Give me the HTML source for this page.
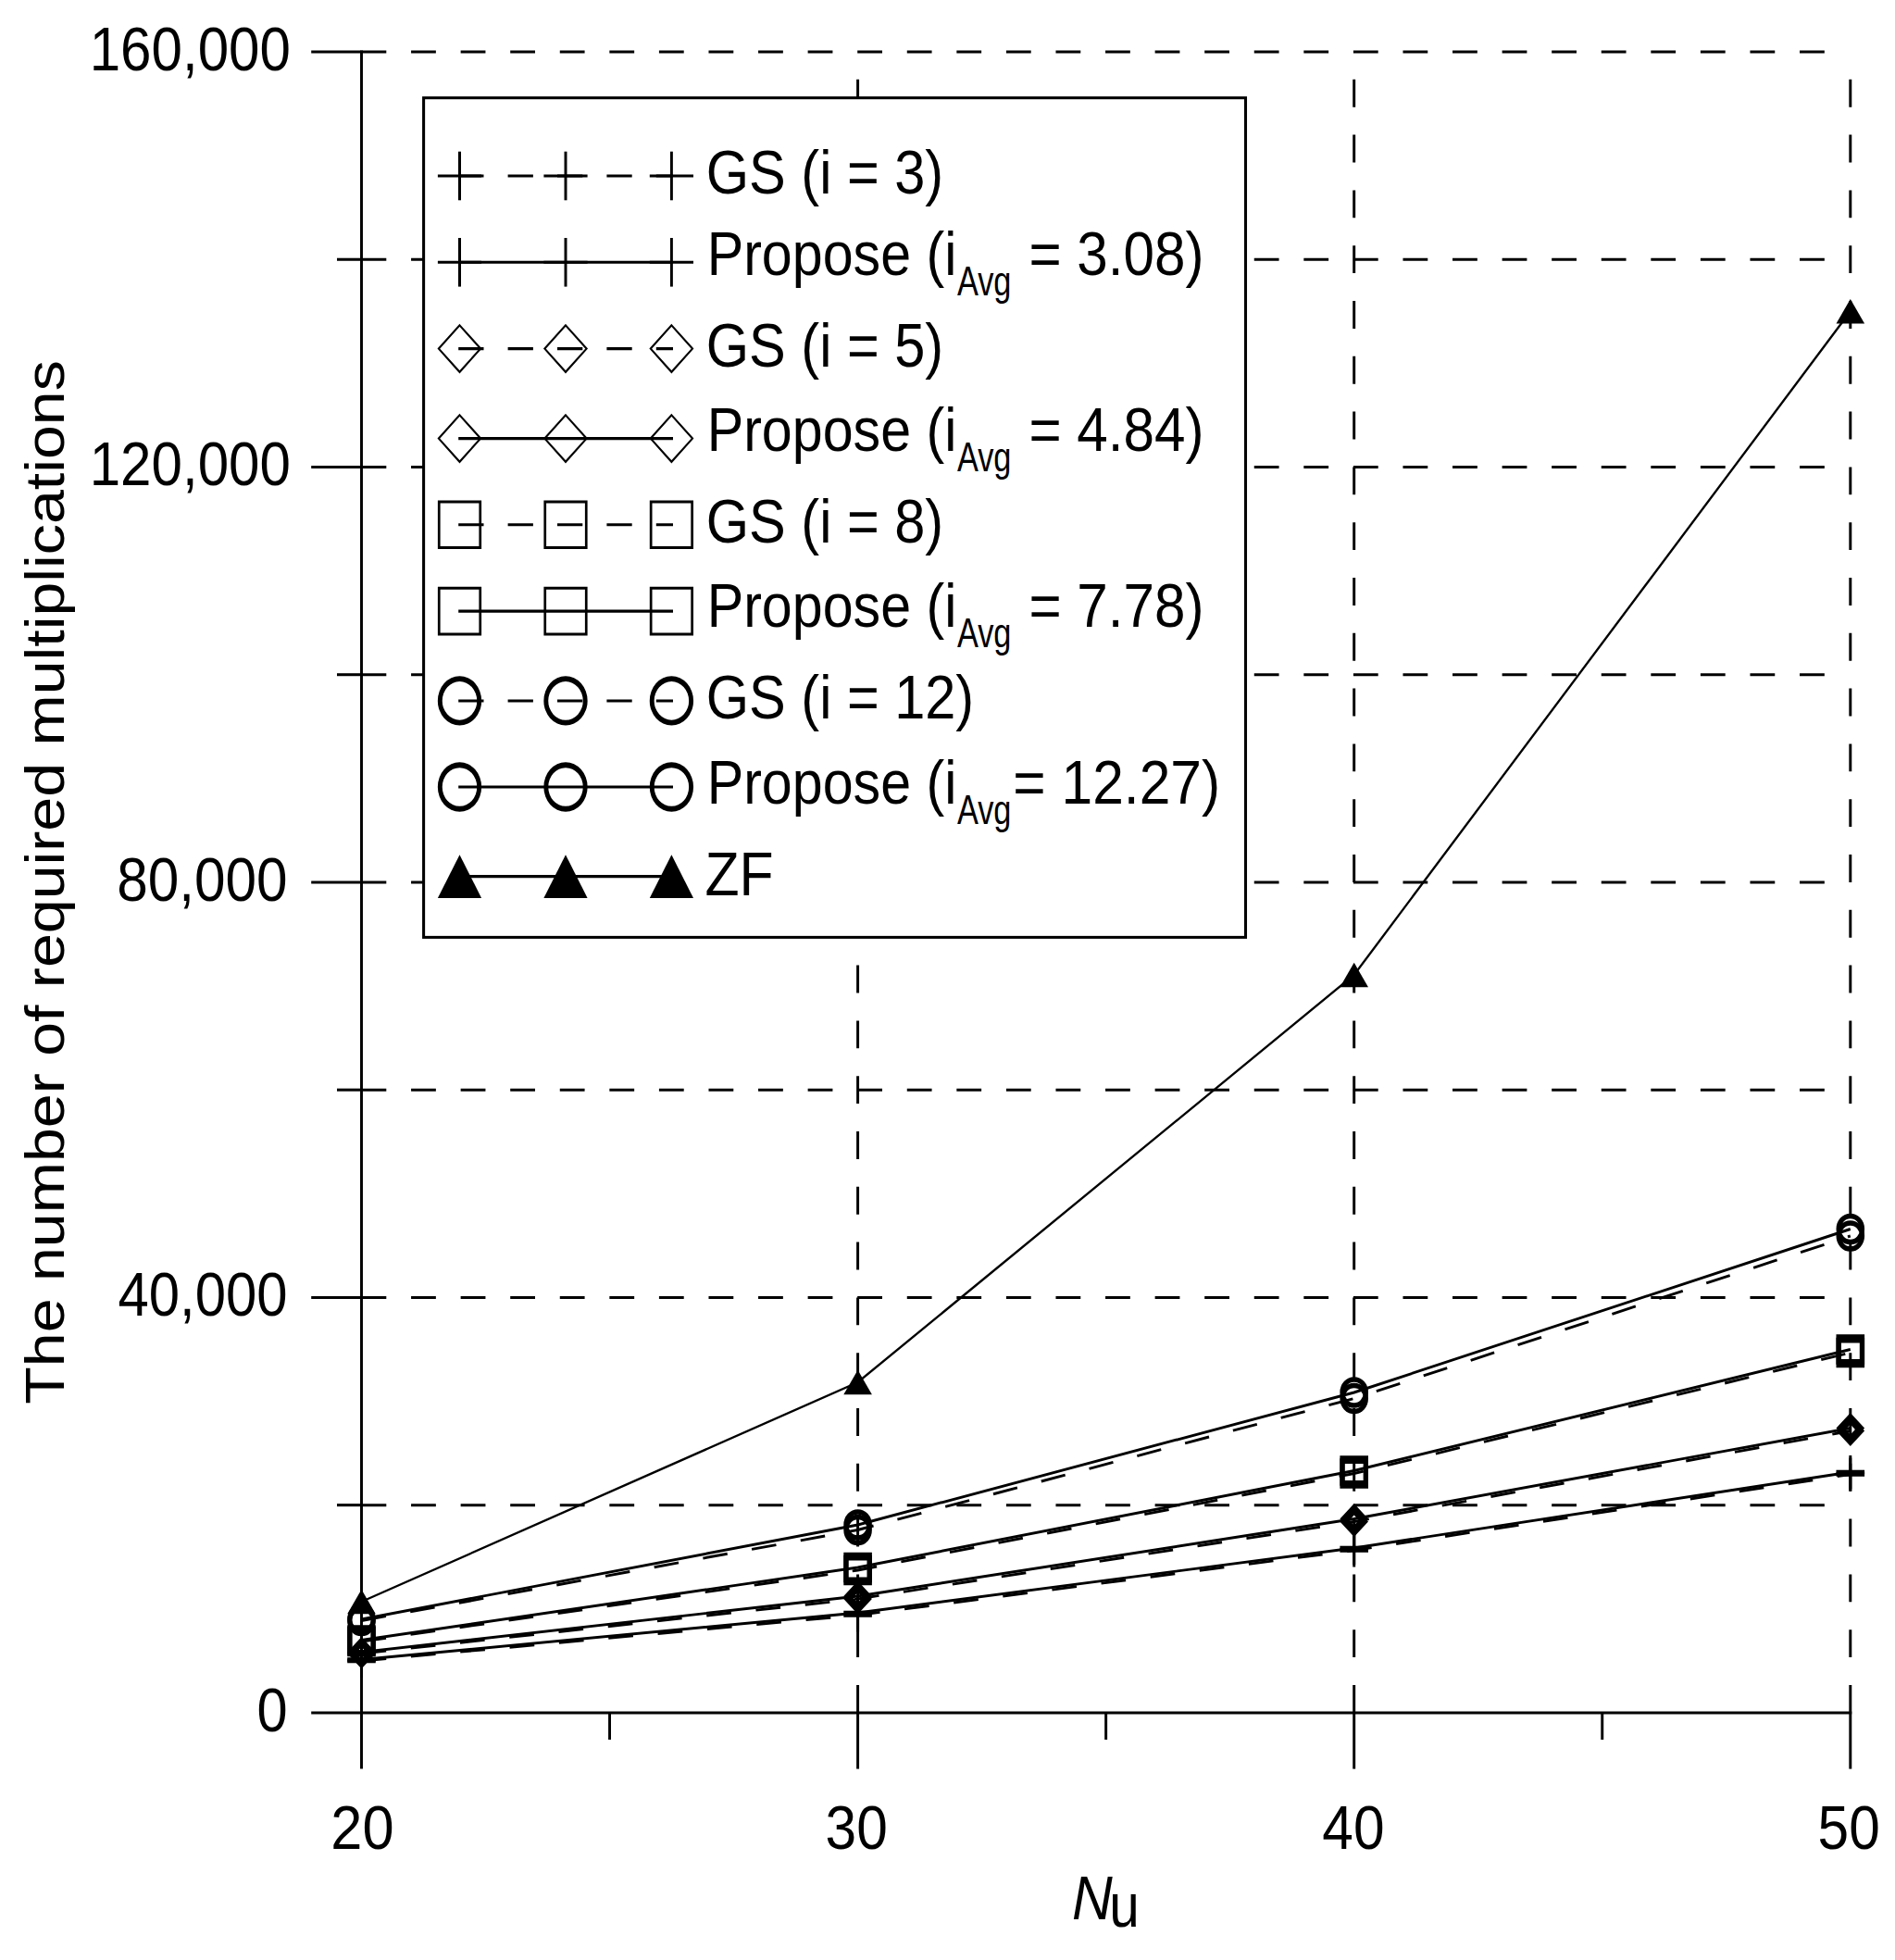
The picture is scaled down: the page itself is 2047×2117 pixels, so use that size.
<!DOCTYPE html>
<html lang="en"><head><meta charset="utf-8"><title>The number of required multiplications vs Nu</title>
<style>html,body{margin:0;padding:0;background:#fff}svg{display:block}</style></head>
<body><svg width="2047" height="2117" viewBox="0 0 2047 2117" shape-rendering="geometricPrecision">
<rect width="2047" height="2117" fill="#fff"/>
<g stroke="#000" fill="none">
<line x1="390.50" y1="1625.66" x2="1973.00" y2="1625.66" stroke-width="3.05" stroke-dasharray="26.8 26.77"/>
<line x1="390.50" y1="1401.43" x2="1973.00" y2="1401.43" stroke-width="3.05" stroke-dasharray="26.8 26.77"/>
<line x1="390.50" y1="1177.19" x2="1973.00" y2="1177.19" stroke-width="3.05" stroke-dasharray="26.8 26.77"/>
<line x1="390.50" y1="952.95" x2="1973.00" y2="952.95" stroke-width="3.05" stroke-dasharray="26.8 26.77"/>
<line x1="390.50" y1="728.71" x2="1973.00" y2="728.71" stroke-width="3.05" stroke-dasharray="26.8 26.77"/>
<line x1="390.50" y1="504.47" x2="1973.00" y2="504.47" stroke-width="3.05" stroke-dasharray="26.8 26.77"/>
<line x1="390.50" y1="280.24" x2="1973.00" y2="280.24" stroke-width="3.05" stroke-dasharray="26.8 26.77"/>
<line x1="390.50" y1="56.00" x2="1973.00" y2="56.00" stroke-width="3.05" stroke-dasharray="26.8 26.77"/>
<line x1="926.60" y1="1849.90" x2="926.60" y2="84.00" stroke-width="2.95" stroke-dasharray="29.9 29.9"/>
<line x1="1462.70" y1="1849.90" x2="1462.70" y2="84.00" stroke-width="2.95" stroke-dasharray="29.9 29.9"/>
<line x1="1998.80" y1="1849.90" x2="1998.80" y2="84.00" stroke-width="2.95" stroke-dasharray="29.9 29.9"/>
</g>
<g stroke="#000" fill="none">
<line x1="390.50" y1="54.48" x2="390.50" y2="1910.60" stroke-width="2.95"/>
<line x1="336.20" y1="1849.90" x2="2000.28" y2="1849.90" stroke-width="3.05"/>
<line x1="364.00" y1="1625.66" x2="390.50" y2="1625.66" stroke-width="3.05"/>
<line x1="336.20" y1="1401.43" x2="390.50" y2="1401.43" stroke-width="3.05"/>
<line x1="364.00" y1="1177.19" x2="390.50" y2="1177.19" stroke-width="3.05"/>
<line x1="336.20" y1="952.95" x2="390.50" y2="952.95" stroke-width="3.05"/>
<line x1="364.00" y1="728.71" x2="390.50" y2="728.71" stroke-width="3.05"/>
<line x1="336.20" y1="504.47" x2="390.50" y2="504.47" stroke-width="3.05"/>
<line x1="364.00" y1="280.24" x2="390.50" y2="280.24" stroke-width="3.05"/>
<line x1="336.20" y1="56.00" x2="390.50" y2="56.00" stroke-width="3.05"/>
<line x1="926.60" y1="1849.90" x2="926.60" y2="1910.60" stroke-width="2.95"/>
<line x1="1462.70" y1="1849.90" x2="1462.70" y2="1910.60" stroke-width="2.95"/>
<line x1="1998.80" y1="1849.90" x2="1998.80" y2="1910.60" stroke-width="2.95"/>
<line x1="658.55" y1="1849.90" x2="658.55" y2="1879.00" stroke-width="2.95"/>
<line x1="1194.65" y1="1849.90" x2="1194.65" y2="1879.00" stroke-width="2.95"/>
<line x1="1730.75" y1="1849.90" x2="1730.75" y2="1879.00" stroke-width="2.95"/>
</g>
<g stroke="#000" fill="none">
<polyline points="390.5,1730.0 926.6,1493.0 1462.7,1053.0 1998.8,336.3" stroke-width="2.35"/>
<polyline points="390.5,1749.0 926.6,1647.0 1462.7,1504.0 1998.8,1327.5" stroke-width="2.9"/>
<polyline points="390.5,1750.5 926.6,1652.5 1462.7,1510.5 1998.8,1335.0" stroke-width="2.9" stroke-dasharray="26.8 26.77"/>
<polyline points="390.5,1771.5 926.6,1693.0 1462.7,1588.5 1998.8,1457.5" stroke-width="2.9"/>
<polyline points="390.5,1773.0 926.6,1696.0 1462.7,1591.5 1998.8,1461.0" stroke-width="2.9" stroke-dasharray="26.8 26.77"/>
<polyline points="390.5,1784.5 926.6,1724.0 1462.7,1640.5 1998.8,1542.5" stroke-width="2.9"/>
<polyline points="390.5,1786.0 926.6,1727.0 1462.7,1643.5 1998.8,1545.5" stroke-width="2.9" stroke-dasharray="26.8 26.77"/>
<polyline points="390.5,1792.5 926.6,1742.0 1462.7,1672.0 1998.8,1590.0" stroke-width="2.9"/>
<polyline points="390.5,1794.0 926.6,1744.5 1462.7,1674.5 1998.8,1592.5" stroke-width="2.9" stroke-dasharray="26.8 26.77"/>
<path d="M390.5 1716.8L405.8 1743.2H375.2Z" fill="#000" stroke="none"/>
<path d="M926.6 1479.8L941.9 1506.2H911.3Z" fill="#000" stroke="none"/>
<path d="M1462.7 1039.8L1478.0 1066.2H1447.4Z" fill="#000" stroke="none"/>
<path d="M1998.8 323.1L2014.1 349.5H1983.5Z" fill="#000" stroke="none"/>
<path d="M375.20 1750.50A15.30 16.80 0 1 0 405.80 1750.50A15.30 16.80 0 1 0 375.20 1750.50Z M380.20 1750.50A10.30 11.20 0 1 0 400.80 1750.50A10.30 11.20 0 1 0 380.20 1750.50Z" fill="#000" stroke="none" fill-rule="evenodd"/>
<path d="M911.30 1652.50A15.30 16.80 0 1 0 941.90 1652.50A15.30 16.80 0 1 0 911.30 1652.50Z M916.30 1652.50A10.30 11.20 0 1 0 936.90 1652.50A10.30 11.20 0 1 0 916.30 1652.50Z" fill="#000" stroke="none" fill-rule="evenodd"/>
<path d="M1447.40 1510.50A15.30 16.80 0 1 0 1478.00 1510.50A15.30 16.80 0 1 0 1447.40 1510.50Z M1452.40 1510.50A10.30 11.20 0 1 0 1473.00 1510.50A10.30 11.20 0 1 0 1452.40 1510.50Z" fill="#000" stroke="none" fill-rule="evenodd"/>
<path d="M1983.50 1335.00A15.30 16.80 0 1 0 2014.10 1335.00A15.30 16.80 0 1 0 1983.50 1335.00Z M1988.50 1335.00A10.30 11.20 0 1 0 2009.10 1335.00A10.30 11.20 0 1 0 1988.50 1335.00Z" fill="#000" stroke="none" fill-rule="evenodd"/>
<path d="M375.20 1749.00A15.30 16.80 0 1 0 405.80 1749.00A15.30 16.80 0 1 0 375.20 1749.00Z M380.20 1749.00A10.30 11.20 0 1 0 400.80 1749.00A10.30 11.20 0 1 0 380.20 1749.00Z" fill="#000" stroke="none" fill-rule="evenodd"/>
<path d="M911.30 1647.00A15.30 16.80 0 1 0 941.90 1647.00A15.30 16.80 0 1 0 911.30 1647.00Z M916.30 1647.00A10.30 11.20 0 1 0 936.90 1647.00A10.30 11.20 0 1 0 916.30 1647.00Z" fill="#000" stroke="none" fill-rule="evenodd"/>
<path d="M1447.40 1504.00A15.30 16.80 0 1 0 1478.00 1504.00A15.30 16.80 0 1 0 1447.40 1504.00Z M1452.40 1504.00A10.30 11.20 0 1 0 1473.00 1504.00A10.30 11.20 0 1 0 1452.40 1504.00Z" fill="#000" stroke="none" fill-rule="evenodd"/>
<path d="M1983.50 1327.50A15.30 16.80 0 1 0 2014.10 1327.50A15.30 16.80 0 1 0 1983.50 1327.50Z M1988.50 1327.50A10.30 11.20 0 1 0 2009.10 1327.50A10.30 11.20 0 1 0 1988.50 1327.50Z" fill="#000" stroke="none" fill-rule="evenodd"/>
<path d="M375.2 1756.8H405.8V1789.2H375.2Z M380.4 1762.4V1783.6H400.6V1762.4Z" fill="#000" stroke="none" fill-rule="evenodd"/>
<path d="M911.3 1679.8H941.9V1712.2H911.3Z M916.5 1685.4V1706.6H936.7V1685.4Z" fill="#000" stroke="none" fill-rule="evenodd"/>
<path d="M1447.4 1575.3H1478.0V1607.7H1447.4Z M1452.6 1580.9V1602.1H1472.8V1580.9Z" fill="#000" stroke="none" fill-rule="evenodd"/>
<path d="M1983.5 1444.8H2014.1V1477.2H1983.5Z M1988.7 1450.4V1471.6H2008.9V1450.4Z" fill="#000" stroke="none" fill-rule="evenodd"/>
<path d="M375.2 1755.3H405.8V1787.7H375.2Z M380.4 1760.9V1782.1H400.6V1760.9Z" fill="#000" stroke="none" fill-rule="evenodd"/>
<path d="M911.3 1676.8H941.9V1709.2H911.3Z M916.5 1682.4V1703.6H936.7V1682.4Z" fill="#000" stroke="none" fill-rule="evenodd"/>
<path d="M1447.4 1572.3H1478.0V1604.7H1447.4Z M1452.6 1577.9V1599.1H1472.8V1577.9Z" fill="#000" stroke="none" fill-rule="evenodd"/>
<path d="M1983.5 1441.3H2014.1V1473.7H1983.5Z M1988.7 1446.9V1468.1H2008.9V1446.9Z" fill="#000" stroke="none" fill-rule="evenodd"/>
<path d="M390.5 1769.4L405.8 1786.0L390.5 1802.6L375.2 1786.0Z M390.5 1779.0L384.0 1786.0L390.5 1793.0L397.0 1786.0Z" fill="#000" stroke="none" fill-rule="evenodd"/>
<path d="M926.6 1710.4L941.9 1727.0L926.6 1743.6L911.3 1727.0Z M926.6 1720.0L920.1 1727.0L926.6 1734.0L933.1 1727.0Z" fill="#000" stroke="none" fill-rule="evenodd"/>
<path d="M1462.7 1626.9L1478.0 1643.5L1462.7 1660.1L1447.4 1643.5Z M1462.7 1636.5L1456.2 1643.5L1462.7 1650.5L1469.2 1643.5Z" fill="#000" stroke="none" fill-rule="evenodd"/>
<path d="M1998.8 1528.9L2014.1 1545.5L1998.8 1562.1L1983.5 1545.5Z M1998.8 1538.5L1992.3 1545.5L1998.8 1552.5L2005.3 1545.5Z" fill="#000" stroke="none" fill-rule="evenodd"/>
<path d="M390.5 1767.9L405.8 1784.5L390.5 1801.1L375.2 1784.5Z M390.5 1777.5L384.0 1784.5L390.5 1791.5L397.0 1784.5Z" fill="#000" stroke="none" fill-rule="evenodd"/>
<path d="M926.6 1707.4L941.9 1724.0L926.6 1740.6L911.3 1724.0Z M926.6 1717.0L920.1 1724.0L926.6 1731.0L933.1 1724.0Z" fill="#000" stroke="none" fill-rule="evenodd"/>
<path d="M1462.7 1623.9L1478.0 1640.5L1462.7 1657.1L1447.4 1640.5Z M1462.7 1633.5L1456.2 1640.5L1462.7 1647.5L1469.2 1640.5Z" fill="#000" stroke="none" fill-rule="evenodd"/>
<path d="M1998.8 1525.9L2014.1 1542.5L1998.8 1559.1L1983.5 1542.5Z M1998.8 1535.5L1992.3 1542.5L1998.8 1549.5L2005.3 1542.5Z" fill="#000" stroke="none" fill-rule="evenodd"/>
<path d="M375.2 1794.0H405.8" stroke-width="4.55"/><path d="M390.5 1776.0V1812.0" stroke-width="2.95"/>
<path d="M911.3 1744.5H941.9" stroke-width="4.55"/><path d="M926.6 1726.5V1762.5" stroke-width="2.95"/>
<path d="M1447.4 1674.5H1478.0" stroke-width="4.55"/><path d="M1462.7 1656.5V1692.5" stroke-width="2.95"/>
<path d="M1983.5 1592.5H2014.1" stroke-width="4.55"/><path d="M1998.8 1574.5V1610.5" stroke-width="2.95"/>
<path d="M375.2 1792.5H405.8" stroke-width="4.55"/><path d="M390.5 1774.5V1810.5" stroke-width="2.95"/>
<path d="M911.3 1742.0H941.9" stroke-width="4.55"/><path d="M926.6 1724.0V1760.0" stroke-width="2.95"/>
<path d="M1447.4 1672.0H1478.0" stroke-width="4.55"/><path d="M1462.7 1654.0V1690.0" stroke-width="2.95"/>
<path d="M1983.5 1590.0H2014.1" stroke-width="4.55"/><path d="M1998.8 1572.0V1608.0" stroke-width="2.95"/>
</g>
<rect x="457.6" y="105.7" width="887.9" height="906.7" fill="#fff" stroke="#000" stroke-width="3.05"/>
<g stroke="#000" fill="none">
<line x1="495.20" y1="190.00" x2="727.00" y2="190.00" stroke-width="3.05" stroke-dasharray="27.3 26.1"/>
<path d="M472.9 190.0H520.1" stroke-width="3.05"/><path d="M496.5 163.7V216.3" stroke-width="2.95"/>
<path d="M587.4 190.0H634.6" stroke-width="3.05"/><path d="M611.0 163.7V216.3" stroke-width="2.95"/>
<path d="M701.8 190.0H749.0" stroke-width="3.05"/><path d="M725.4 163.7V216.3" stroke-width="2.95"/>
<line x1="495.20" y1="283.30" x2="727.00" y2="283.30" stroke-width="3.05"/>
<path d="M472.9 283.3H520.1" stroke-width="3.05"/><path d="M496.5 257.0V309.6" stroke-width="2.95"/>
<path d="M587.4 283.3H634.6" stroke-width="3.05"/><path d="M611.0 257.0V309.6" stroke-width="2.95"/>
<path d="M701.8 283.3H749.0" stroke-width="3.05"/><path d="M725.4 257.0V309.6" stroke-width="2.95"/>
<line x1="495.20" y1="376.60" x2="727.00" y2="376.60" stroke-width="3.05" stroke-dasharray="27.3 26.1"/>
<path d="M496.5 351.4L519.1 376.6L496.5 401.8L473.9 376.6Z" stroke-width="2.15" stroke-linejoin="miter"/>
<path d="M611.0 351.4L633.6 376.6L611.0 401.8L588.4 376.6Z" stroke-width="2.15" stroke-linejoin="miter"/>
<path d="M725.4 351.4L748.0 376.6L725.4 401.8L702.8 376.6Z" stroke-width="2.15" stroke-linejoin="miter"/>
<line x1="495.20" y1="473.60" x2="727.00" y2="473.60" stroke-width="3.05"/>
<path d="M496.5 448.4L519.1 473.6L496.5 498.8L473.9 473.6Z" stroke-width="2.15" stroke-linejoin="miter"/>
<path d="M611.0 448.4L633.6 473.6L611.0 498.8L588.4 473.6Z" stroke-width="2.15" stroke-linejoin="miter"/>
<path d="M725.4 448.4L748.0 473.6L725.4 498.8L702.8 473.6Z" stroke-width="2.15" stroke-linejoin="miter"/>
<line x1="495.20" y1="566.80" x2="727.00" y2="566.80" stroke-width="3.05" stroke-dasharray="27.3 26.1"/>
<path d="M472.9 540.5H520.1V593.1H472.9Z M475.6 543.5V590.1H517.4V543.5Z" fill="#000" stroke="none" fill-rule="evenodd"/>
<path d="M587.4 540.5H634.6V593.1H587.4Z M590.1 543.5V590.1H631.9V543.5Z" fill="#000" stroke="none" fill-rule="evenodd"/>
<path d="M701.8 540.5H749.0V593.1H701.8Z M704.5 543.5V590.1H746.3V543.5Z" fill="#000" stroke="none" fill-rule="evenodd"/>
<line x1="495.20" y1="660.10" x2="727.00" y2="660.10" stroke-width="3.05"/>
<path d="M472.9 633.8H520.1V686.4H472.9Z M475.6 636.8V683.4H517.4V636.8Z" fill="#000" stroke="none" fill-rule="evenodd"/>
<path d="M587.4 633.8H634.6V686.4H587.4Z M590.1 636.8V683.4H631.9V636.8Z" fill="#000" stroke="none" fill-rule="evenodd"/>
<path d="M701.8 633.8H749.0V686.4H701.8Z M704.5 636.8V683.4H746.3V636.8Z" fill="#000" stroke="none" fill-rule="evenodd"/>
<line x1="495.20" y1="756.90" x2="727.00" y2="756.90" stroke-width="3.05" stroke-dasharray="27.3 26.1"/>
<path d="M472.85 756.90A23.65 26.70 0 1 0 520.15 756.90A23.65 26.70 0 1 0 472.85 756.90Z M477.75 756.90A18.75 20.80 0 1 0 515.25 756.90A18.75 20.80 0 1 0 477.75 756.90Z" fill="#000" stroke="none" fill-rule="evenodd"/>
<path d="M587.35 756.90A23.65 26.70 0 1 0 634.65 756.90A23.65 26.70 0 1 0 587.35 756.90Z M592.25 756.90A18.75 20.80 0 1 0 629.75 756.90A18.75 20.80 0 1 0 592.25 756.90Z" fill="#000" stroke="none" fill-rule="evenodd"/>
<path d="M701.75 756.90A23.65 26.70 0 1 0 749.05 756.90A23.65 26.70 0 1 0 701.75 756.90Z M706.65 756.90A18.75 20.80 0 1 0 744.15 756.90A18.75 20.80 0 1 0 706.65 756.90Z" fill="#000" stroke="none" fill-rule="evenodd"/>
<line x1="495.20" y1="850.00" x2="727.00" y2="850.00" stroke-width="3.05"/>
<path d="M472.85 850.00A23.65 26.70 0 1 0 520.15 850.00A23.65 26.70 0 1 0 472.85 850.00Z M477.75 850.00A18.75 20.80 0 1 0 515.25 850.00A18.75 20.80 0 1 0 477.75 850.00Z" fill="#000" stroke="none" fill-rule="evenodd"/>
<path d="M587.35 850.00A23.65 26.70 0 1 0 634.65 850.00A23.65 26.70 0 1 0 587.35 850.00Z M592.25 850.00A18.75 20.80 0 1 0 629.75 850.00A18.75 20.80 0 1 0 592.25 850.00Z" fill="#000" stroke="none" fill-rule="evenodd"/>
<path d="M701.75 850.00A23.65 26.70 0 1 0 749.05 850.00A23.65 26.70 0 1 0 701.75 850.00Z M706.65 850.00A18.75 20.80 0 1 0 744.15 850.00A18.75 20.80 0 1 0 706.65 850.00Z" fill="#000" stroke="none" fill-rule="evenodd"/>
<line x1="496.50" y1="946.60" x2="725.40" y2="946.60" stroke-width="3.05"/>
<path d="M496.5 923.3L520.1 969.9H472.9Z" fill="#000" stroke="none"/>
<path d="M611.0 923.3L634.6 969.9H587.4Z" fill="#000" stroke="none"/>
<path d="M725.4 923.3L749.0 969.9H701.8Z" fill="#000" stroke="none"/>
</g>
<g font-family='"Liberation Sans", Arial, Helvetica, sans-serif' fill="#000">
<text transform="translate(762.83 209.40) scale(0.9015 1.0000)" font-size="66.0" xml:space="preserve">GS (i = 3)</text>
<text transform="translate(762.83 396.30) scale(0.9015 1.0000)" font-size="66.0" xml:space="preserve">GS (i = 5)</text>
<text transform="translate(762.83 586.10) scale(0.9015 1.0000)" font-size="66.0" xml:space="preserve">GS (i = 8)</text>
<text transform="translate(762.83 776.00) scale(0.9015 1.0000)" font-size="66.0" xml:space="preserve">GS (i = 12)</text>
<text transform="translate(763.66 297.00) scale(0.8970 1.0000)" font-size="66.0" xml:space="preserve">Propose (i</text>
<text transform="translate(1033.93 319.00) scale(0.7580 1.0000)" font-size="45.3" xml:space="preserve">Avg</text>
<text transform="translate(1111.49 297.00) scale(0.9120 1.0000)" font-size="66.0" xml:space="preserve">= 3.08)</text>
<text transform="translate(763.66 487.20) scale(0.8970 1.0000)" font-size="66.0" xml:space="preserve">Propose (i</text>
<text transform="translate(1033.93 509.20) scale(0.7580 1.0000)" font-size="45.3" xml:space="preserve">Avg</text>
<text transform="translate(1111.49 487.20) scale(0.9120 1.0000)" font-size="66.0" xml:space="preserve">= 4.84)</text>
<text transform="translate(763.66 677.30) scale(0.8970 1.0000)" font-size="66.0" xml:space="preserve">Propose (i</text>
<text transform="translate(1033.93 699.30) scale(0.7580 1.0000)" font-size="45.3" xml:space="preserve">Avg</text>
<text transform="translate(1111.49 677.30) scale(0.9120 1.0000)" font-size="66.0" xml:space="preserve">= 7.78)</text>
<text transform="translate(763.66 867.50) scale(0.8970 1.0000)" font-size="66.0" xml:space="preserve">Propose (i</text>
<text transform="translate(1033.93 889.50) scale(0.7580 1.0000)" font-size="45.3" xml:space="preserve">Avg</text>
<text transform="translate(1094.37 867.50) scale(0.9170 1.0000)" font-size="66.0" xml:space="preserve">= 12.27)</text>
<text transform="translate(761.48 966.60) scale(0.9200 1.0000)" font-size="66.0" xml:space="preserve">ZF</text>
<text transform="translate(96.69 75.70) scale(0.9104 1.0000)" font-size="66.0" xml:space="preserve">160,000</text>
<text transform="translate(96.69 524.17) scale(0.9104 1.0000)" font-size="66.0" xml:space="preserve">120,000</text>
<text transform="translate(126.29 972.65) scale(0.9132 1.0000)" font-size="66.0" xml:space="preserve">80,000</text>
<text transform="translate(127.50 1421.13) scale(0.9071 1.0000)" font-size="66.0" xml:space="preserve">40,000</text>
<text transform="translate(277.62 1869.60) scale(0.9027 1.0000)" font-size="66.0" xml:space="preserve">0</text>
<text transform="translate(357.33 1997.20) scale(0.9298 1.0000)" font-size="66.0" xml:space="preserve">20</text>
<text transform="translate(891.58 1997.20) scale(0.9149 1.0000)" font-size="66.0" xml:space="preserve">30</text>
<text transform="translate(1428.29 1997.20) scale(0.9163 1.0000)" font-size="66.0" xml:space="preserve">40</text>
<text transform="translate(1963.58 1997.20) scale(0.9149 1.0000)" font-size="66.0" xml:space="preserve">50</text>
<text transform="translate(1158.08 2072.50) scale(0.9179 1.0000)" font-size="66.0" style="font-style:italic" xml:space="preserve">N</text>
<text transform="translate(1198.19 2081.30) scale(0.8877 1.0000)" font-size="66.0" xml:space="preserve">u</text>
<text transform="translate(69.0 1516.7) rotate(-90) scale(1.0046 0.888)" font-size="66.0">The number of required multiplications</text>
</g>
</svg></body></html>
